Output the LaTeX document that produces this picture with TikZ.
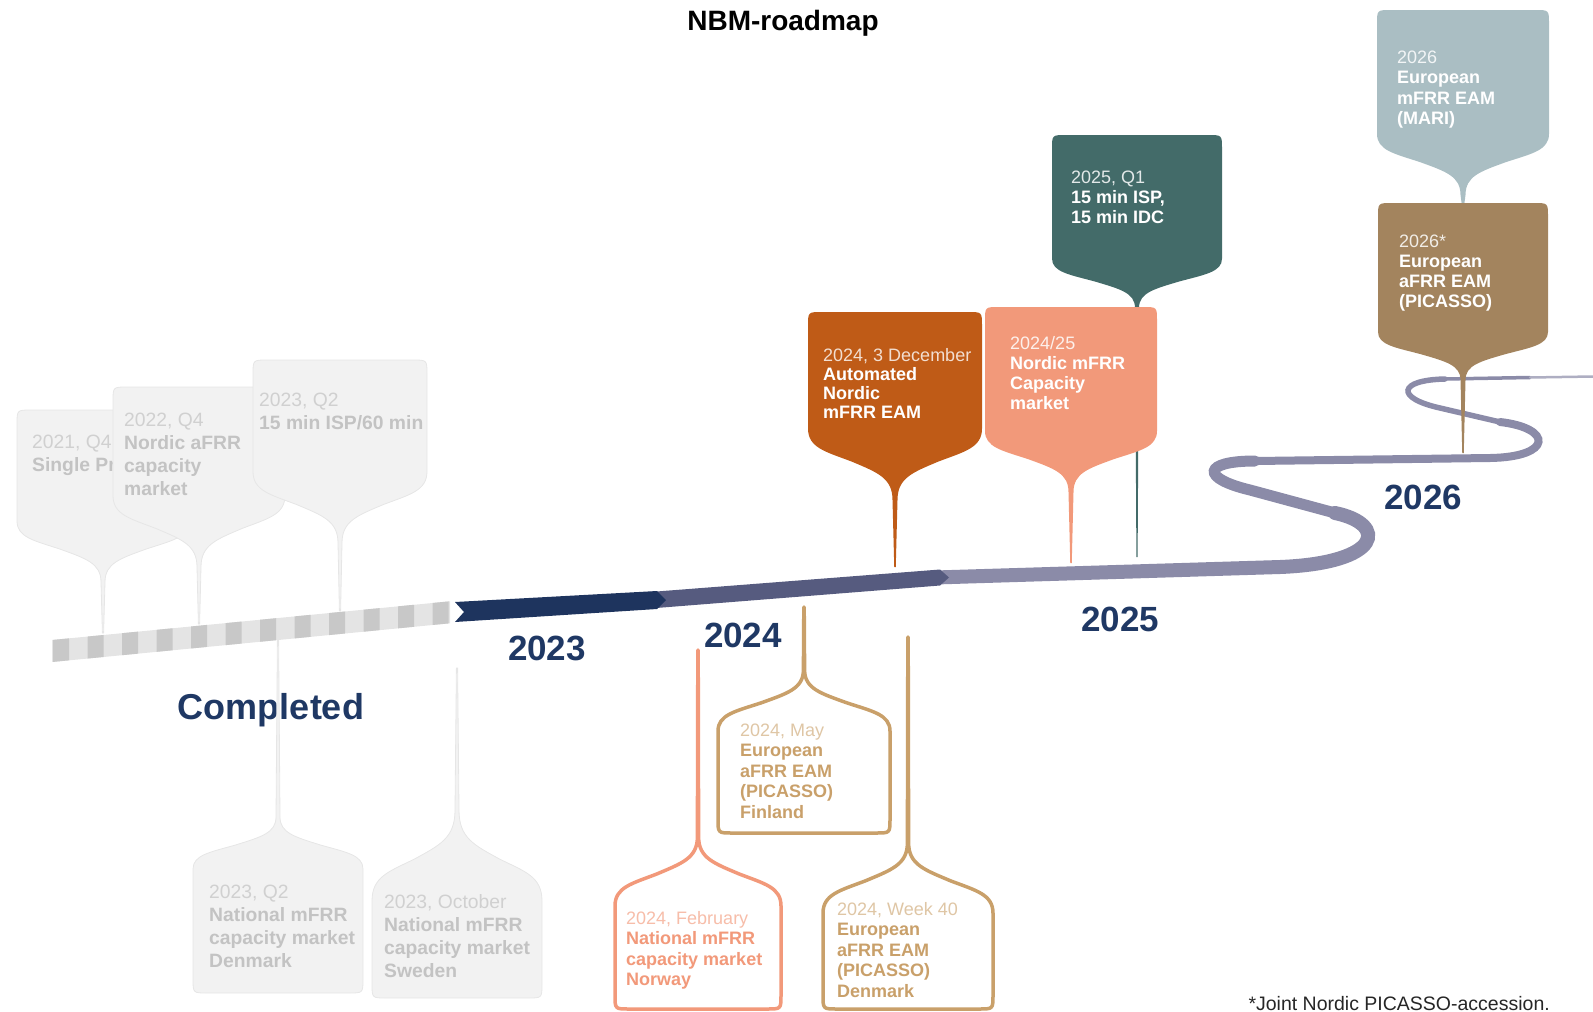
\documentclass[tikz,border=0pt]{standalone}
\usepackage{fontspec}
\setmainfont{Liberation Sans}
\usetikzlibrary{calc}

\definecolor{navy}{HTML}{1F3864}
\definecolor{bandnavy}{HTML}{1E345E}
\definecolor{bandslate}{HTML}{565B7F}
\definecolor{lavender}{HTML}{8B8BA8}
\definecolor{sqdark}{HTML}{C8C8C8}
\definecolor{sqlight}{HTML}{E4E4E4}
\definecolor{pingrey}{HTML}{F2F2F2}
\definecolor{pingreyedge}{HTML}{E6E6E6}
\definecolor{greydate}{HTML}{D0D0D0}
\definecolor{greybold}{HTML}{C3C3C3}
\definecolor{pinrust}{HTML}{BF5B17}
\definecolor{pinsalmon}{HTML}{F2997A}
\definecolor{pinteal}{HTML}{436B69}
\definecolor{pinsky}{HTML}{AABEC3}
\definecolor{pinbrown}{HTML}{A3845E}
\definecolor{pintan}{HTML}{C9A06A}

% pin: style, centre x, half width, box end y, shoulder y, neck y, tip y, neck half width
\newcommand{\pinshape}[8]{%
  \pgfmathsetmacro{\fh}{#6-#5}%
  \pgfmathsetmacro{\rr}{14*sign(#5-#4)}%
  \path[#1]
    ({#2-#3}, {#5-0.3*(\fh)}) -- ({#2-#3}, {#4+\rr}) .. controls ({#2-#3}, #4) .. ({#2-#3+14}, #4)
    -- ({#2+#3-14}, #4) .. controls ({#2+#3}, #4) .. ({#2+#3}, {#4+\rr})
    -- ({#2+#3}, {#5-0.3*(\fh)})
    .. controls ({#2+#3}, {#5+0.05*(\fh)}) and ({#2+0.8*#3}, {#5+0.12*(\fh)}) .. ({#2+0.5*#3}, {#5+0.3*(\fh)})
    .. controls ({#2+0.2*#3}, {#5+0.5*(\fh)}) and ({#2+#8}, {#5+0.6*(\fh)}) .. ({#2+#8}, #6)
    -- ({#2+0.3*#8}, #7) -- ({#2-0.3*#8}, #7) -- ({#2-#8}, #6)
    .. controls ({#2-#8}, {#5+0.6*(\fh)}) and ({#2-0.2*#3}, {#5+0.5*(\fh)}) .. ({#2-0.5*#3}, {#5+0.3*(\fh)})
    .. controls ({#2-0.8*#3}, {#5+0.12*(\fh)}) and ({#2-#3}, {#5+0.05*(\fh)}) .. cycle;}
\newcommand{\when}[2]{{\mdseries\color{#1}#2}}

\begin{document}
\begin{tikzpicture}[
    x=1pt, y=-1pt,
    heading/.style={anchor=base, inner sep=0pt, font=\fontsize{28}{30}\selectfont\bfseries},
    year/.style={anchor=base, inner sep=0pt, text=navy, font=\fontsize{35}{38}\selectfont\bfseries},
    pintext/.style={anchor=base west, align=left, inner sep=0pt, font=\fontsize{18}{20.5}\selectfont\bfseries},
    oldtext/.style={pintext, text=greybold, font=\fontsize{19.3}{23.3}\selectfont\bfseries},
    greypin/.style={fill=pingrey, draw=pingreyedge, line width=0.8pt},
    solidpin/.style={fill=#1},
    ringpin/.style={draw=#1, fill=white, line width=3.5pt, line join=round},
    band/.style={draw=lavender, line cap=round},
]
\useasboundingbox (0,0) rectangle (1593,1012);

\node[heading] (title) at (783,30) {NBM-roadmap};

% timeline
\fill[sqlight] (52,640) -- (450,601.3) -- (450,623.3) -- (52,662) -- cycle;
\foreach \k in {0,...,11}{
    \pgfmathsetmacro{\xa}{53+34.5*\k}
    \pgfmathsetmacro{\xb}{\xa+16}
    \fill[sqdark] (\xa,{640-0.0973*(\xa-52)}) -- (\xb,{640-0.0973*(\xb-52)})
        -- (\xb,{662-0.0973*(\xb-52)}) -- (\xa,{662-0.0973*(\xa-52)}) -- cycle;
}
\draw[band, line width=14pt] (935,577.5) -- (1280,567) .. controls (1383,563) and (1388,524) .. (1335,513);
\draw[band, line width=11pt] (1335,513) -- (1250,490) .. controls (1200,478) and (1203,461) .. (1255,461);
\draw[band, line width=8pt] (1255,461) -- (1490,458) .. controls (1553,457) and (1553,428) .. (1500,422);
\draw[band, line width=5.5pt] (1500,422) -- (1440,408) .. controls (1395,398) and (1398,380) .. (1445,379);
\draw[band, line width=3.5pt] (1445,379) -- (1530,377.5);
\draw[band, lavender!70, line width=2.5pt] (1530,377.5) -- (1593,376.5);
\fill[bandslate] (650,592) -- (940,569.5) -- (949,577.5) -- (940,585.5) -- (650,608.5) -- cycle;
\fill[bandnavy] (455,602) -- (657,591) -- (666,600) -- (657,609) -- (455,622) -- (464,612) -- cycle;

\node[year] (completed) at (271,719) {\fontsize{36}{38}\selectfont Completed};
\node[year] (y2023) at (547,660) {2023};
\node[year] (y2024) at (743,647) {2024};
\node[year] (y2025) at (1120,631) {2025};
\node[year] (y2026) at (1423,509) {2026};

% done, above the line
\pinshape{greypin}{103}{86}{410}{535}{582}{633}{2}
\node[oldtext] (singleprice) at (32,471.3) {\when{greydate}{2021, Q4}\\Single Pr};
\pinshape{greypin}{199}{86}{387}{512}{567}{624}{2}
\node[oldtext] (afrrcap) at (124,495.9) {\when{greydate}{2022, Q4}\\Nordic aFRR\\capacity\\market};
\pinshape{greypin}{340}{87}{360}{488}{543}{611}{2}
\node[oldtext] (isp60) at (259,429.3) {\when{greydate}{2023, Q2}\\15 min ISP/60 min};

% done, below the line
\pinshape{greypin}{278}{85}{993}{857}{817}{640}{2}
\node[oldtext] (mfrrdk) at (209,967.9) {\when{greydate}{2023, Q2}\\National mFRR\\capacity market\\Denmark};
\pinshape{greypin}{457}{85}{998}{880}{810}{668}{2}
\node[oldtext] (mfrrse) at (384,977.9) {\when{greydate}{2023, October}\\National mFRR\\capacity market\\Sweden};

% 2024 below the line
\pinshape{ringpin=pintan}{804}{86}{833}{717}{670}{607}{0.6}
\node[pintext, text=pintan] (picfi) at (740,818) {\when{pintan!60}{2024, May}\\European\\aFRR EAM\\(PICASSO)\\Finland};
\pinshape{ringpin=pinsalmon}{698}{83}{1009}{890}{837}{650}{0.6}
\node[pintext, text=pinsalmon] (mfrrno) at (626,985.5) {\when{pinsalmon!65}{2024, February}\\National mFRR\\capacity market\\Norway};
\pinshape{ringpin=pintan}{908}{85}{1009}{897}{843}{637}{0.6}
\node[pintext, text=pintan] (picdk) at (837,997) {\when{pintan!60}{2024, Week 40}\\European\\aFRR EAM\\(PICASSO)\\Denmark};

% coming, above the line
\pinshape{solidpin=pinrust}{895}{87}{312}{445}{500}{567}{2.5}
\node[pintext, text=white, font=\fontsize{18}{19}\selectfont\bfseries] (mfrream) at (823,418) {\when{white!80!pinrust}{2024, 3 December}\\Automated\\Nordic\\mFRR EAM};
\pinshape{solidpin=pinteal}{1137}{85}{135}{270}{308}{557}{2}
\node[pintext, text=white, font=\fontsize{18}{20}\selectfont\bfseries] (isp15) at (1071,223) {\when{white!85!pinteal}{2025, Q1}\\15 min ISP,\\15 min IDC};
\pinshape{solidpin=pinsalmon}{1071}{86}{307}{445}{492}{563}{2.5}
\node[pintext, text=white, font=\fontsize{18}{20}\selectfont\bfseries] (mfrrcap) at (1010,409) {\when{white!85!pinsalmon}{2024/25}\\Nordic mFRR\\Capacity\\market};
\pinshape{solidpin=pinsky}{1463}{86}{10}{148}{195}{208}{2.5}
\node[pintext, text=white] (mari) at (1397,124.5) {\when{white!85!pinsky}{2026}\\European\\mFRR EAM\\(MARI)};
\pinshape{solidpin=pinbrown}{1463}{85}{203}{343}{380}{453}{2.5}
\node[pintext, text=white, font=\fontsize{18}{20}\selectfont\bfseries] (picasso) at (1399,307) {\when{white!85!pinbrown}{2026*}\\European\\aFRR EAM\\(PICASSO)};

\node[anchor=base east, inner sep=0pt, text=black!85, font=\fontsize{19.5}{21}\selectfont] (footnote) at (1550,1010) {*Joint Nordic PICASSO-accession.};
\end{tikzpicture}
\end{document}
